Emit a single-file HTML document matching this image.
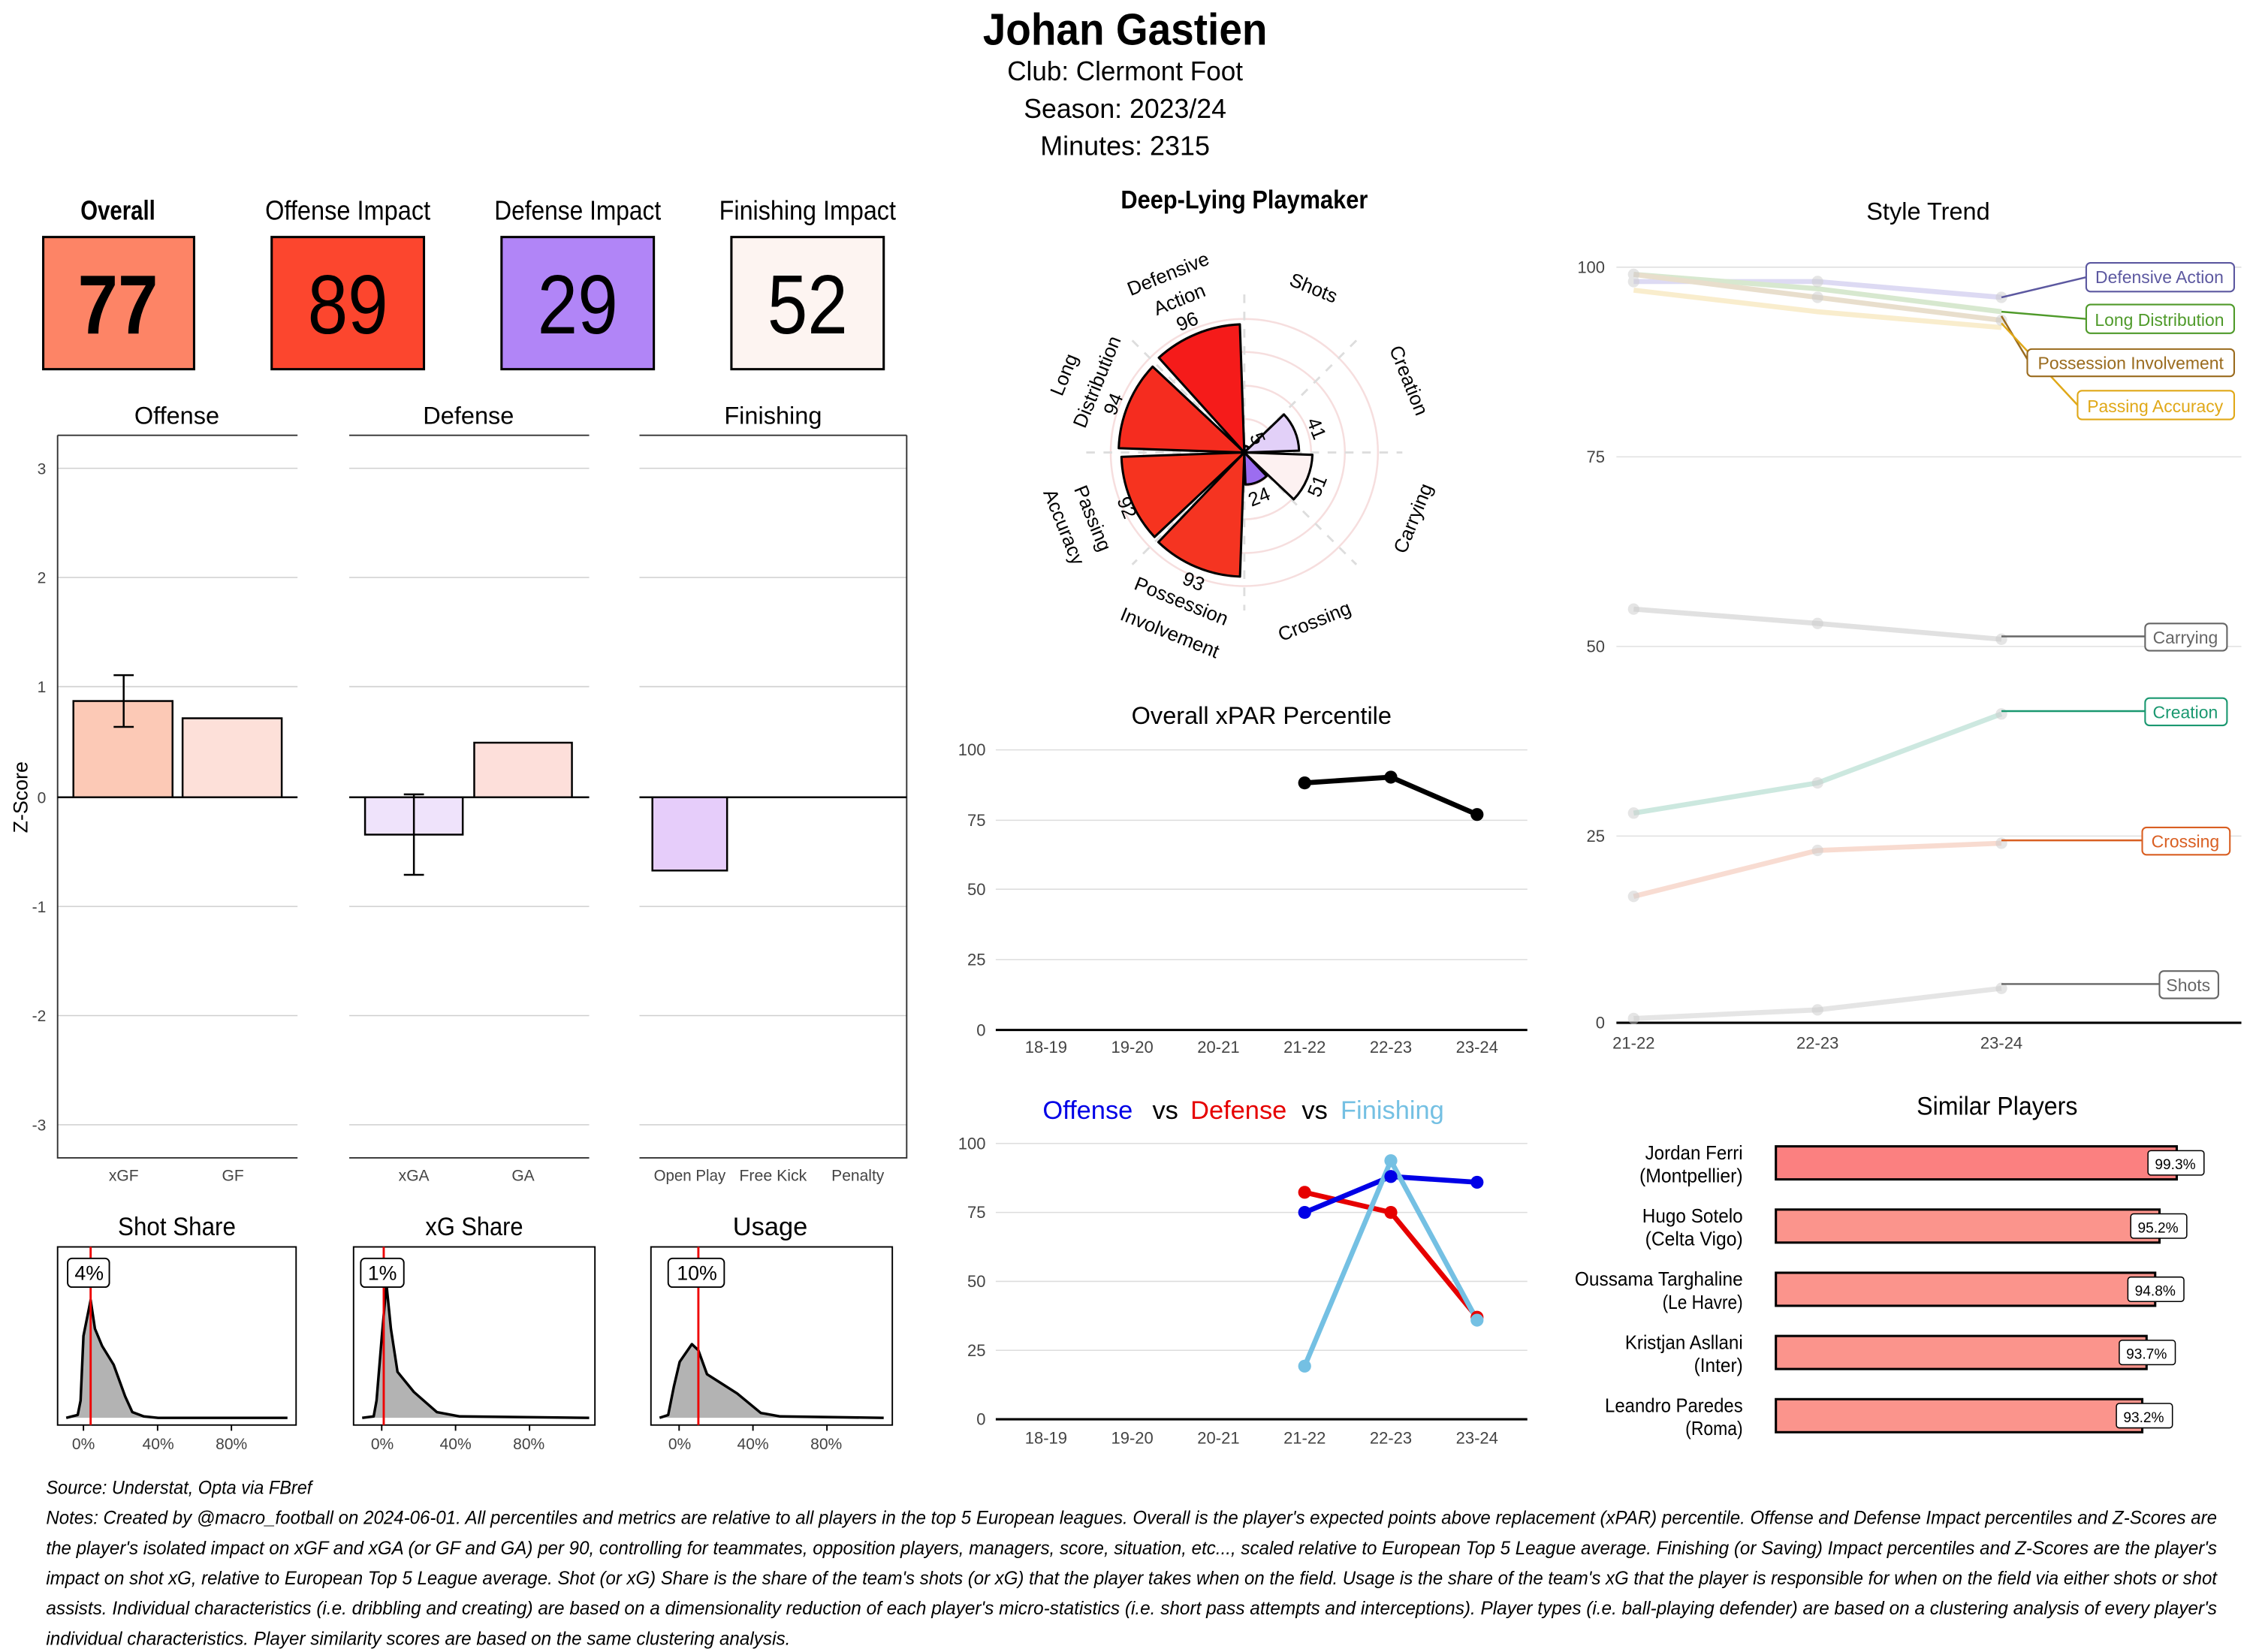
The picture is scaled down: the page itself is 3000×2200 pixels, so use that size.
<!DOCTYPE html>
<html><head><meta charset="utf-8"><style>html,body{margin:0;padding:0;background:#fff}svg{display:block}text{font-family:"Liberation Sans",sans-serif}</style></head>
<body>
<svg width="3000" height="2200" viewBox="0 0 1568 1150" xmlns="http://www.w3.org/2000/svg">
<rect width="1568" height="1150" fill="#fff"/>
<!-- Header -->
<text x="783" y="31" font-size="31" font-weight="bold" text-anchor="middle" textLength="198" lengthAdjust="spacingAndGlyphs">Johan Gastien</text>
<text x="783" y="56" font-size="19" text-anchor="middle" textLength="164" lengthAdjust="spacingAndGlyphs">Club:  Clermont Foot</text>
<text x="783" y="82" font-size="19" text-anchor="middle" textLength="141" lengthAdjust="spacingAndGlyphs">Season:  2023/24</text>
<text x="783" y="108" font-size="19" text-anchor="middle" textLength="118" lengthAdjust="spacingAndGlyphs">Minutes:  2315</text>

<!-- Impact boxes -->
<g font-size="19" text-anchor="middle">
<text x="82" y="153" font-weight="bold" textLength="52" lengthAdjust="spacingAndGlyphs">Overall</text>
<text x="242" y="153" textLength="115" lengthAdjust="spacingAndGlyphs">Offense Impact</text>
<text x="402" y="153" textLength="116" lengthAdjust="spacingAndGlyphs">Defense Impact</text>
<text x="562" y="153" textLength="123" lengthAdjust="spacingAndGlyphs">Finishing Impact</text>
</g>
<g stroke="#000" stroke-width="1.6">
<rect x="30" y="165" width="105" height="92" fill="#fd8466"/>
<rect x="189" y="165" width="106" height="92" fill="#fc462e"/>
<rect x="349" y="165" width="106" height="92" fill="#b185f7"/>
<rect x="509" y="165" width="106" height="92" fill="#fdf4f1"/>
</g>
<g font-size="58" text-anchor="middle">
<text x="82" y="232" font-weight="bold" textLength="56" lengthAdjust="spacingAndGlyphs">77</text>
<text x="242" y="232" textLength="56" lengthAdjust="spacingAndGlyphs">89</text>
<text x="402" y="232" textLength="56" lengthAdjust="spacingAndGlyphs">29</text>
<text x="562" y="232" textLength="56" lengthAdjust="spacingAndGlyphs">52</text>
</g>

<!-- Z-score bar panels -->
<g font-size="17" text-anchor="middle">
<text x="123" y="295">Offense</text>
<text x="326" y="295">Defense</text>
<text x="538" y="295">Finishing</text>
</g>
<g stroke="#cfcfcf" stroke-width="0.8">
<path d="M40 326H207M40 402H207M40 478H207M40 631H207M40 707H207M40 783H207"/>
<path d="M243 326H410M243 402H410M243 478H410M243 631H410M243 707H410M243 783H410"/>
<path d="M445 326H631M445 402H631M445 478H631M445 631H631M445 707H631M445 783H631"/>
</g>
<g stroke="#333" stroke-width="1" fill="none">
<path d="M40 303H207M243 303H410M445 303H631"/>
<path d="M40 303V806H207M243 806H410M445 806H631V303"/>
</g>
<g stroke="#000" stroke-width="1.3">
<rect x="51" y="488" width="69" height="67" fill="#fcc9b6"/>
<rect x="127" y="500" width="69" height="55" fill="#fde0d9"/>
<rect x="254" y="555" width="68" height="26" fill="#efe3fb"/>
<rect x="330" y="517" width="68" height="38" fill="#fddfda"/>
<rect x="454" y="555" width="52" height="51" fill="#e6cdfa"/>
<path d="M40 555H207M243 555H410M445 555H631" />
<path d="M86 470V506M79 470H93M79 506H93" fill="none"/>
<path d="M288 553V609M281 553H295M281 609H295" fill="none"/>
</g>
<g font-size="11" fill="#444" text-anchor="end">
<text x="32" y="330">3</text><text x="32" y="406">2</text><text x="32" y="482">1</text><text x="32" y="559">0</text>
<text x="32" y="635">-1</text><text x="32" y="711">-2</text><text x="32" y="787">-3</text>
</g>
<text x="19" y="555" font-size="14" text-anchor="middle" transform="rotate(-90 19 555)">Z-Score</text>
<g font-size="11" fill="#444" text-anchor="middle">
<text x="86" y="822">xGF</text><text x="162" y="822">GF</text><text x="288" y="822">xGA</text><text x="364" y="822">GA</text>
<text x="480" y="822" textLength="50" lengthAdjust="spacingAndGlyphs">Open Play</text><text x="538" y="822" textLength="47" lengthAdjust="spacingAndGlyphs">Free Kick</text><text x="597" y="822">Penalty</text>
</g>

<!-- density panels -->
<g font-size="18" text-anchor="middle">
<text x="123" y="860" textLength="82" lengthAdjust="spacingAndGlyphs">Shot Share</text>
<text x="330" y="860" textLength="68" lengthAdjust="spacingAndGlyphs">xG Share</text>
<text x="536" y="860">Usage</text>
</g>
<g fill="#b3b3b3" stroke="#000" stroke-width="1.8" stroke-linejoin="round">
<path d="M46 987L54 985L56 975L58 930L63 905L66 925L71 937L79 950L87 972L92 983L100 986L110 987L200 987" />
<path d="M252 987L260 986L262 975L265.7 930L268.9 894L272 925L276.6 955L288 969L304 983L320 986L410 987"/>
<path d="M459 987L465 985L469 965L473 948L481.5 935.7L486 940L492 956.6L502 963L513 970L529.5 983.6L543 986L615 987"/>
</g>
<g stroke="#000" stroke-width="1" fill="none">
<rect x="40" y="868" width="166" height="124"/>
<rect x="246" y="868" width="168" height="124"/>
<rect x="453" y="868" width="168" height="124"/>
<path d="M58 992V996M109.6 992V996M161 992V996M265.6 992V996M317 992V996M368.5 992V996M472.6 992V996M524 992V996M575.5 992V996"/>
</g>
<g stroke="#e00" stroke-width="1.5"><path d="M63 868V992M267 868V992M486 868V992"/></g>
<g fill="#fff" stroke="#000" stroke-width="1"><rect x="47" y="876" width="29" height="20" rx="3"/><rect x="251" y="876" width="30" height="20" rx="3"/><rect x="465" y="876" width="39" height="20" rx="3"/></g>
<g font-size="14" text-anchor="middle"><text x="62" y="891">4%</text><text x="266" y="891">1%</text><text x="485" y="891">10%</text></g>
<g font-size="11" fill="#444" text-anchor="middle">
<text x="58" y="1009">0%</text><text x="110" y="1009">40%</text><text x="161" y="1009">80%</text>
<text x="266" y="1009">0%</text><text x="317" y="1009">40%</text><text x="368" y="1009">80%</text>
<text x="473" y="1009">0%</text><text x="524" y="1009">40%</text><text x="575" y="1009">80%</text>
</g>

<!-- Radar -->
<text x="866" y="145" font-size="18" font-weight="bold" text-anchor="middle" textLength="172" lengthAdjust="spacingAndGlyphs">Deep-Lying Playmaker</text>
<g transform="translate(866 315)">
<g fill="none" stroke="#f6dede" stroke-width="1.3">
<circle r="23.3"/><circle r="46.5"/><circle r="70"/><circle r="93"/>
</g>
<g stroke="#ddd" stroke-width="1.5" stroke-dasharray="6 6">
<path d="M0 -110V110M-110 0H110M-78 -78L78 78M78 -78L-78 78"/>
</g>
<g stroke="#000" stroke-width="1.6" stroke-linejoin="round">
<path d="M0 0L0.2 -4.6A4.6 4.6 0 0 1 3.2 -3.3Z" fill="#d9c7f5"/>
<path d="M0 0L27.6 -26.5A38.1 38.1 0 0 1 38.1 -1.3Z" fill="#e2d0f8"/>
<path d="M0 0L47.4 1.6A47.4 47.4 0 0 1 34.4 32.6Z" fill="#fdf1f1"/>
<path d="M0 0L15.5 16.4A22.3 22.3 0 0 1 0.8 22.3Z" fill="#9c6df0"/>
<path d="M0 0L-3 86.4A86.5 86.5 0 0 1 -59.8 62.4Z" fill="#f53421"/>
<path d="M0 0L-62.5 58.8A85.6 85.6 0 0 1 -85.5 3Z" fill="#f6331f"/>
<path d="M0 0L-87.4 -3A87.4 87.4 0 0 1 -63.8 -59.8Z" fill="#f52c1f"/>
<path d="M0 0L-59.5 -66A89.3 89.3 0 0 1 -3.1 -89.2Z" fill="#f51b1a"/>
</g>
<g font-size="13.5" text-anchor="middle">
<text x="-38" y="-87" transform="rotate(-22 -38 -87)">96</text>
<text x="-87" y="-32" transform="rotate(-68 -87 -32)">94</text>
<text x="-86" y="40" transform="rotate(68 -86 40)">92</text>
<text x="-37" y="94" transform="rotate(22 -37 94)">93</text>
<text x="46" y="-15" transform="rotate(68 46 -15)">41</text>
<text x="55" y="25" transform="rotate(-68 55 25)">51</text>
<text x="12" y="35" transform="rotate(-22 12 35)">24</text>
<text x="5" y="-8" transform="rotate(68 5 -8)">5</text>
</g>
<g font-size="13.5" text-anchor="middle">
<text x="-53" y="-121" transform="rotate(-22 -50 -125)">Defensive</text>
<text x="-45" y="-102" transform="rotate(-22 -45 -106)">Action</text>
<text x="48" y="-110" transform="rotate(22 48 -114)">Shots</text>
<text x="114" y="-46" transform="rotate(68 114 -50)">Creation</text>
<text x="118" y="50" transform="rotate(-68 118 46)">Carrying</text>
<text x="49" y="122" transform="rotate(-22 49 118)">Crossing</text>
<text x="-44" y="108" transform="rotate(22 -44 104)">Possession</text>
<text x="-52" y="130" transform="rotate(22 -52 126)">Involvement</text>
<text x="-106" y="50" transform="rotate(68 -106 46)">Passing</text>
<text x="-126" y="56" transform="rotate(68 -126 52)">Accuracy</text>
<text x="-125" y="-50" transform="rotate(-68 -125 -54)">Long</text>
<text x="-102" y="-45" transform="rotate(-68 -102 -49)">Distribution</text>
</g>
</g>

<!-- Overall xPAR -->
<text x="878" y="504" font-size="17" text-anchor="middle">Overall xPAR Percentile</text>
<g stroke="#ddd" stroke-width="0.8"><path d="M693 522H1063M693 571H1063M693 619H1063M693 668H1063"/></g>
<path d="M693 717H1063" stroke="#000" stroke-width="1.6"/>
<g font-size="11.5" fill="#444" text-anchor="end"><text x="686" y="526">100</text><text x="686" y="575">75</text><text x="686" y="623">50</text><text x="686" y="672">25</text><text x="686" y="721">0</text></g>
<g font-size="11.5" fill="#444" text-anchor="middle"><text x="728" y="733">18-19</text><text x="788" y="733">19-20</text><text x="848" y="733">20-21</text><text x="908" y="733">21-22</text><text x="968" y="733">22-23</text><text x="1028" y="733">23-24</text></g>
<polyline points="908,545 968,541 1028,567" fill="none" stroke="#000" stroke-width="3.5"/>
<g fill="#000"><circle cx="908" cy="545" r="4.5"/><circle cx="968" cy="541" r="4.5"/><circle cx="1028" cy="567" r="4.5"/></g>

<!-- Off vs Def vs Fin -->
<text x="757" y="779" font-size="18" text-anchor="middle" fill="#0000e6">Offense</text>
<text x="811" y="779" font-size="18" text-anchor="middle">vs</text>
<text x="862" y="779" font-size="18" text-anchor="middle" fill="#e60000">Defense</text>
<text x="915" y="779" font-size="18" text-anchor="middle">vs</text>
<text x="969" y="779" font-size="18" text-anchor="middle" fill="#74c0e3">Finishing</text>
<g stroke="#ddd" stroke-width="0.8"><path d="M693 796H1063M693 844H1063M693 892H1063M693 940H1063"/></g>
<path d="M693 988H1063" stroke="#000" stroke-width="1.6"/>
<g font-size="11.5" fill="#444" text-anchor="end"><text x="686" y="800">100</text><text x="686" y="848">75</text><text x="686" y="896">50</text><text x="686" y="944">25</text><text x="686" y="992">0</text></g>
<g font-size="11.5" fill="#444" text-anchor="middle"><text x="728" y="1005">18-19</text><text x="788" y="1005">19-20</text><text x="848" y="1005">20-21</text><text x="908" y="1005">21-22</text><text x="968" y="1005">22-23</text><text x="1028" y="1005">23-24</text></g>
<polyline points="908,830 968,844 1028,917" fill="none" stroke="#e60000" stroke-width="3.5"/>
<polyline points="908,844 968,819 1028,823" fill="none" stroke="#0000e6" stroke-width="3.5"/>
<polyline points="908,951 968,808 1028,919" fill="none" stroke="#74c0e3" stroke-width="3.5"/>
<g fill="#e60000"><circle cx="908" cy="830" r="4.5"/><circle cx="968" cy="844" r="4.5"/><circle cx="1028" cy="917" r="4.5"/></g>
<g fill="#0000e6"><circle cx="908" cy="844" r="4.5"/><circle cx="968" cy="819" r="4.5"/><circle cx="1028" cy="823" r="4.5"/></g>
<g fill="#74c0e3"><circle cx="908" cy="951" r="4.5"/><circle cx="968" cy="808" r="4.5"/><circle cx="1028" cy="919" r="4.5"/></g>

<!-- Style Trend -->
<text x="1342" y="153" font-size="17" text-anchor="middle">Style Trend</text>
<g stroke="#e0e0e0" stroke-width="0.8"><path d="M1125 186H1560M1125 318H1560M1125 450H1560M1125 582H1560"/></g>
<path d="M1125 712H1560" stroke="#000" stroke-width="1.6"/>
<g font-size="11.5" fill="#444" text-anchor="end"><text x="1117" y="190">100</text><text x="1117" y="322">75</text><text x="1117" y="454">50</text><text x="1117" y="586">25</text><text x="1117" y="716">0</text></g>
<g font-size="11.5" fill="#444" text-anchor="middle"><text x="1137" y="730">21-22</text><text x="1265" y="730">22-23</text><text x="1393" y="730">23-24</text></g>
<g fill="none" stroke-width="3.5" opacity="0.22">
<polyline points="1137,196 1265,196 1393,207" stroke="#6a5acd"/>
<polyline points="1137,191 1265,201 1393,217" stroke="#4f9a2a"/>
<polyline points="1137,191 1265,207 1393,223" stroke="#9a6b1e"/>
<polyline points="1137,202 1265,217 1393,228" stroke="#e8b020"/>
<polyline points="1137,424 1265,434 1393,445" stroke="#777"/>
<polyline points="1137,566 1265,545 1393,497" stroke="#1a9870"/>
<polyline points="1137,624 1265,592 1393,587" stroke="#e06030"/>
<polyline points="1137,709 1265,703 1393,688" stroke="#888"/>
</g>
<g fill="#ccc" opacity="0.5">
<circle cx="1137" cy="196" r="4"/><circle cx="1265" cy="196" r="4"/><circle cx="1393" cy="207" r="4"/>
<circle cx="1137" cy="191" r="4"/><circle cx="1265" cy="207" r="4"/><circle cx="1393" cy="223" r="4"/>
<circle cx="1137" cy="424" r="4"/><circle cx="1265" cy="434" r="4"/><circle cx="1393" cy="445" r="4"/>
<circle cx="1137" cy="566" r="4"/><circle cx="1265" cy="545" r="4"/><circle cx="1393" cy="497" r="4"/>
<circle cx="1137" cy="624" r="4"/><circle cx="1265" cy="592" r="4"/><circle cx="1393" cy="587" r="4"/>
<circle cx="1137" cy="709" r="4"/><circle cx="1265" cy="703" r="4"/><circle cx="1393" cy="688" r="4"/>
</g>
<g fill="none" stroke-width="1.3">
<path d="M1393 207L1452 193" stroke="#5c58a0"/>
<path d="M1393 217L1452 222" stroke="#4f9a2a"/>
<path d="M1393 220L1411 250" stroke="#9a6b1e"/>
<path d="M1393 225L1446 282" stroke="#e0a818"/>
<path d="M1393 443H1493" stroke="#666"/>
<path d="M1393 495H1493" stroke="#1a9870"/>
<path d="M1393 585H1491" stroke="#d95f22"/>
<path d="M1393 685H1503" stroke="#666"/>
</g>
<g fill="#fff" stroke-width="1.1">
<rect x="1452" y="183" width="103" height="20" rx="3" stroke="#5c58a0"/>
<rect x="1452" y="212" width="103" height="20" rx="3" stroke="#4f9a2a"/>
<rect x="1411" y="243" width="144" height="19" rx="3" stroke="#9a6b1e"/>
<rect x="1446" y="272" width="109" height="20" rx="3" stroke="#e0a818"/>
<rect x="1493" y="434" width="57" height="19" rx="3" stroke="#666"/>
<rect x="1493" y="486" width="57" height="19" rx="3" stroke="#1a9870"/>
<rect x="1491" y="576" width="61" height="19" rx="3" stroke="#d95f22"/>
<rect x="1503" y="676" width="41" height="19" rx="3" stroke="#666"/>
</g>
<g font-size="12" text-anchor="middle">
<text x="1503" y="197" fill="#5c58a0">Defensive Action</text>
<text x="1503" y="227" fill="#4f9a2a">Long Distribution</text>
<text x="1483" y="257" fill="#9a6b1e">Possession Involvement</text>
<text x="1500" y="287" fill="#e0a818">Passing Accuracy</text>
<text x="1521" y="448" fill="#666">Carrying</text>
<text x="1521" y="500" fill="#1a9870">Creation</text>
<text x="1521" y="590" fill="#d95f22">Crossing</text>
<text x="1523" y="690" fill="#666">Shots</text>
</g>

<!-- Similar players -->
<text x="1390" y="776" font-size="18" text-anchor="middle" textLength="112" lengthAdjust="spacingAndGlyphs">Similar Players</text>
<g stroke="#000" stroke-width="1.6">
<rect x="1236" y="798" width="279" height="23" fill="#fb8080"/>
<rect x="1236" y="842" width="267" height="23" fill="#fb948c"/>
<rect x="1236" y="886" width="264" height="23" fill="#fb948c"/>
<rect x="1236" y="930" width="258" height="23" fill="#fb948c"/>
<rect x="1236" y="974" width="255" height="23" fill="#fb948c"/>
</g>
<g fill="#fff" stroke="#000" stroke-width="0.8">
<rect x="1495" y="801" width="39" height="17" rx="2"/>
<rect x="1483" y="845" width="39" height="17" rx="2"/>
<rect x="1481" y="889" width="39" height="17" rx="2"/>
<rect x="1475" y="933" width="39" height="17" rx="2"/>
<rect x="1473" y="977" width="39" height="17" rx="2"/>
</g>
<g font-size="10" text-anchor="middle">
<text x="1514" y="814">99.3%</text><text x="1502" y="858">95.2%</text><text x="1500" y="902">94.8%</text><text x="1494" y="946">93.7%</text><text x="1492" y="990">93.2%</text>
</g>
<g font-size="13.5" text-anchor="end">
<text x="1213" y="807" textLength="68" lengthAdjust="spacingAndGlyphs">Jordan Ferri</text><text x="1213" y="823" textLength="72" lengthAdjust="spacingAndGlyphs">(Montpellier)</text>
<text x="1213" y="851" textLength="70" lengthAdjust="spacingAndGlyphs">Hugo Sotelo</text><text x="1213" y="867" textLength="68" lengthAdjust="spacingAndGlyphs">(Celta Vigo)</text>
<text x="1213" y="895" textLength="117" lengthAdjust="spacingAndGlyphs">Oussama Targhaline</text><text x="1213" y="911" textLength="56" lengthAdjust="spacingAndGlyphs">(Le Havre)</text>
<text x="1213" y="939" textLength="82" lengthAdjust="spacingAndGlyphs">Kristjan Asllani</text><text x="1213" y="955" textLength="34" lengthAdjust="spacingAndGlyphs">(Inter)</text>
<text x="1213" y="983" textLength="96" lengthAdjust="spacingAndGlyphs">Leandro Paredes</text><text x="1213" y="999" textLength="40" lengthAdjust="spacingAndGlyphs">(Roma)</text>
</g>

<!-- Notes -->
<g font-size="13" font-style="italic">
<text x="32" y="1040" textLength="185" lengthAdjust="spacingAndGlyphs">Source: Understat, Opta via FBref</text>
<text x="32" y="1061" textLength="1511" lengthAdjust="spacingAndGlyphs">Notes: Created by @macro_football on 2024-06-01. All percentiles and metrics are relative to all players in the top 5 European leagues. Overall is the player's expected points above replacement (xPAR) percentile. Offense and Defense Impact percentiles and Z-Scores are</text>
<text x="32" y="1082" textLength="1511" lengthAdjust="spacingAndGlyphs">the player's isolated impact on xGF and xGA (or GF and GA) per 90, controlling for teammates, opposition players, managers, score, situation, etc..., scaled relative to European Top 5 League average. Finishing (or Saving) Impact percentiles and Z-Scores are the player's</text>
<text x="32" y="1103" textLength="1511" lengthAdjust="spacingAndGlyphs">impact on shot xG, relative to European Top 5 League average. Shot (or xG) Share is the share of the team's shots (or xG) that the player takes when on the field. Usage is the share of the team's xG that the player is responsible for when on the field via either shots or shot</text>
<text x="32" y="1124" textLength="1511" lengthAdjust="spacingAndGlyphs">assists. Individual characteristics (i.e. dribbling and creating) are based on a dimensionality reduction of each player's micro-statistics (i.e. short pass attempts and interceptions). Player types (i.e. ball-playing defender) are based on a clustering analysis of every player's</text>
<text x="32" y="1145" textLength="518" lengthAdjust="spacingAndGlyphs">individual characteristics. Player similarity scores are based on the same clustering analysis.</text>
</g>
</svg>
</body></html>
